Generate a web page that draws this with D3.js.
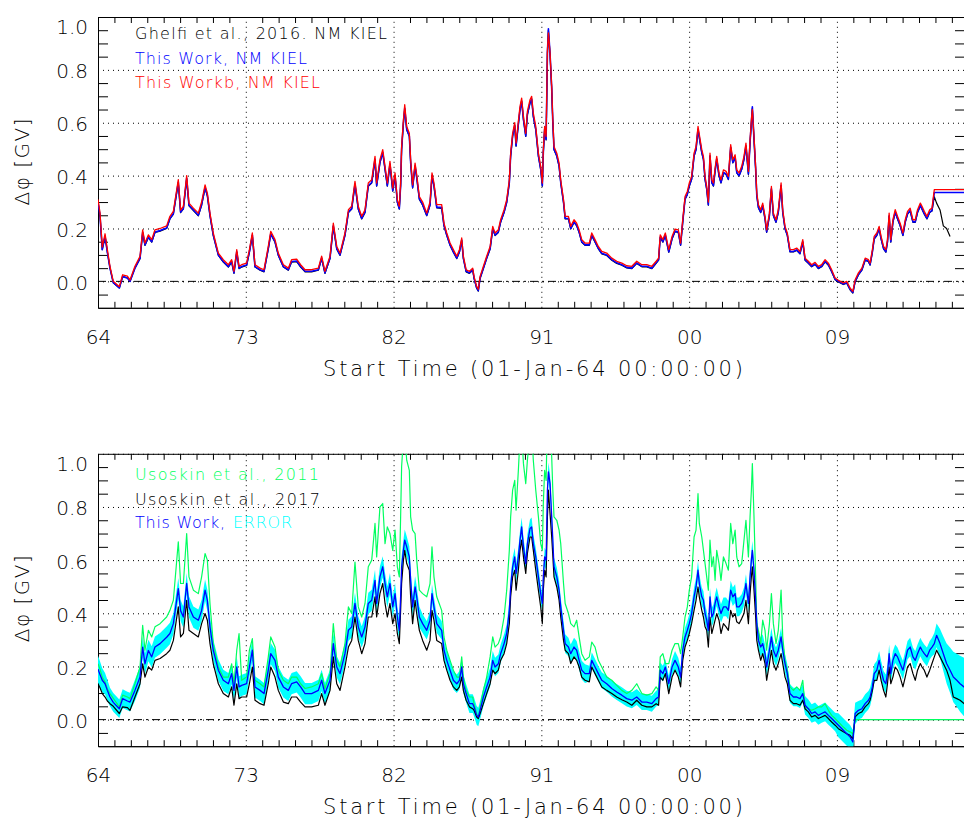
<!DOCTYPE html>
<html>
<head>
<meta charset="utf-8">
<script src="https://cdn.jsdelivr.net/npm/d3@7"></script>
<style>
  body { margin: 0; background: #fff; }
  svg text { font-family: "DejaVu Sans", sans-serif; font-weight: 300; fill: #000; }
</style>
</head>
<body>
<svg id="chart" width="964" height="819"></svg>
<script>
// time of each sample (decimal year), shared by every series
var years = [
  // 1964 - 1981
  1964.00,1964.12,1964.26,1964.43,1964.57,1964.73,1964.93,1965.30,1965.50,1965.79,
  1965.95,1966.25,1966.56,1966.72,1966.86,1967.07,1967.27,1967.47,1967.78,1968.18,
  1968.38,1968.59,1968.89,1969.03,1969.20,1969.40,1969.54,1969.81,1970.11,1970.31,
  1970.52,1970.66,1970.82,1971.02,1971.33,1971.63,1971.94,1972.14,1972.28,1972.45,
  1972.59,1972.75,1973.05,1973.22,1973.40,1973.56,1973.87,1974.11,1974.37,1974.52,
  1974.78,1974.98,1975.29,1975.59,1975.79,1976.10,1976.34,1976.61,1977.01,1977.42,
  1977.62,1977.82,1978.13,1978.33,1978.54,1978.74,1979.04,1979.25,1979.45,1979.65,
  1979.85,1980.06,1980.26,1980.46,1980.67,1980.87,1980.97,
  // 1981 - 1999
  1981.17,1981.34,1981.48,1981.62,1981.78,1981.95,1982.09,1982.23,1982.35,1982.43,
  1982.49,1982.60,1982.68,1982.80,1982.96,1983.04,1983.16,1983.31,1983.41,1983.57,
  1983.77,1984.02,1984.22,1984.34,1984.46,1984.63,1984.93,1985.07,1985.24,1985.44,
  1985.64,1985.85,1986.01,1986.15,1986.25,1986.42,1986.62,1986.82,1986.90,1987.06,
  1987.16,1987.27,1987.47,1987.67,1987.88,1988.04,1988.18,1988.38,1988.52,1988.73,
  1988.89,1989.05,1989.13,1989.25,1989.38,1989.46,1989.60,1989.70,1989.80,1989.91,
  1990.05,1990.15,1990.31,1990.41,1990.51,1990.66,1990.82,1990.96,1991.06,1991.12,
  1991.20,1991.29,1991.37,1991.43,1991.53,1991.63,1991.69,1991.77,1991.94,1992.08,
  1992.18,1992.35,1992.45,1992.65,1992.79,1992.99,1993.15,1993.30,1993.46,1993.66,
  1993.92,1994.07,1994.27,1994.47,1994.68,1994.98,1995.29,1995.59,1995.90,1996.20,
  1996.51,1996.81,1997.12,1997.42,1997.73,1997.99,1998.14,1998.24,1998.40,1998.55,
  1998.76,1998.96,
  // 1999 - 2016
  1999.14,1999.34,1999.48,1999.61,1999.75,1999.89,2000.01,2000.15,2000.30,2000.42,
  2000.54,2000.62,2000.77,2000.87,2000.97,2001.07,2001.17,2001.27,2001.38,2001.48,
  2001.58,2001.68,2001.82,2001.94,2002.09,2002.25,2002.39,2002.53,2002.66,2002.80,
  2002.90,2003.04,2003.20,2003.34,2003.46,2003.61,2003.71,2003.79,2003.85,2003.95,
  2004.05,2004.12,2004.22,2004.36,2004.48,2004.62,2004.72,2004.89,2005.01,2005.13,
  2005.29,2005.43,2005.60,2005.70,2005.84,2005.98,2006.14,2006.35,2006.55,2006.75,
  2006.92,2007.06,2007.26,2007.46,2007.67,2007.87,2008.07,2008.28,2008.48,2008.68,
  2008.89,2009.09,2009.39,2009.60,2009.80,2009.97,2010.11,2010.31,2010.52,2010.72,
  2010.92,2011.02,2011.16,2011.27,2011.43,2011.57,2011.69,2011.84,2011.98,2012.08,
  2012.18,2012.28,2012.41,2012.55,2012.69,2012.85,2013.02,2013.16,2013.30,2013.46,
  2013.63,2013.77,2013.91,2014.08,2014.18,2014.32,2014.48,2014.65,2014.79,2014.93,
  2015.07,2015.28,2015.48,2015.68,2015.89,2016.09,2016.30,2016.50,2016.74,2016.80
];

// top panel: This Workb, NM KIEL (red)
var kielB = [
  .31,.26,.13,.18,.12,.057,0,-.02,.025,.02,
  .005,.057,.095,.195,.145,.176,.158,.195,.20,.21,
  .246,.265,.385,.27,.284,.40,.296,.277,.258,.30,
  .365,.334,.258,.183,.107,.082,.063,.082,.038,.12,
  .057,.063,.069,.12,.183,.063,.05,.044,.132,.189,
  .158,.107,.063,.05,.082,.084,.063,.044,.044,.05,
  .095,.038,.095,.22,.132,.107,.183,.271,.284,.378,
  .284,.246,.271,.372,.384,.473,.372,
  .46,.498,.435,.372,.454,.353,.41,.309,.284,.372,
  .51,.611,.668,.586,.56,.46,.365,.447,.403,.321,
  .30,.258,.30,.41,.372,.29,.29,.22,.183,.145,
  .12,.095,.12,.164,.095,.044,.038,.05,.019,-.019,
  -.03,.019,.057,.095,.132,.208,.183,.195,.233,.271,
  .309,.384,.485,.56,.60,.523,.605,.662,.693,.624,
  .56,.643,.687,.70,.636,.586,.485,.435,.372,.498,
  .586,.548,.876,.94,.863,.737,.624,.51,.485,.447,
  .384,.309,.246,.246,.208,.233,.22,.195,.158,.145,
  .145,.183,.158,.132,.113,.107,.088,.076,.069,.059,
  .057,.076,.063,.063,.057,.076,.088,.176,.158,.183,
  .12,.17,
  .198,.195,.145,.233,.321,.34,.372,.397,.485,.51,
  .586,.555,.498,.473,.397,.359,.30,.485,.384,.372,
  .428,.473,.41,.384,.422,.416,.397,.517,.46,.479,
  .422,.41,.435,.473,.523,.416,.536,.611,.65,.548,
  .435,.334,.29,.271,.296,.246,.195,.258,.359,.258,
  .233,.271,.372,.271,.208,.183,.12,.12,.126,.113,
  .158,.088,.076,.063,.072,.057,.063,.082,.069,.044,
  .013,.004,-.006,0,-.025,-.038,.006,.032,.05,.088,
  .082,.069,.12,.17,.183,.208,.17,.132,.12,.158,
  .258,.158,.233,.271,.246,.22,.183,.233,.265,.277,
  .233,.233,.271,.296,.284,.265,.246,.271,.277,.347,
  .347,.347,.347,.347,.347,.347,.347,.347,.347,.347
];

// top panel: This Work, NM KIEL (blue)
var kielA = [
  .30,.25,.12,.17,.11,.05,-.005,-.025,.018,.013,
  0,.05,.088,.185,.138,.168,.15,.187,.192,.202,
  .238,.256,.375,.262,.276,.39,.288,.27,.25,.29,
  .355,.325,.25,.175,.10,.075,.056,.075,.032,.112,
  .05,.056,.062,.112,.175,.056,.044,.038,.124,.18,
  .15,.10,.056,.044,.075,.077,.056,.038,.038,.044,
  .088,.032,.088,.21,.124,.10,.175,.262,.275,.368,
  .275,.238,.262,.362,.374,.462,.362,
  .45,.488,.425,.362,.444,.343,.40,.30,.275,.362,
  .50,.60,.655,.575,.55,.45,.355,.437,.393,.312,
  .29,.25,.29,.40,.362,.28,.28,.212,.175,.138,
  .112,.088,.112,.156,.088,.038,.032,.044,.013,-.024,
  -.035,.013,.05,.088,.124,.20,.175,.187,.225,.262,
  .30,.374,.475,.55,.59,.513,.595,.65,.682,.613,
  .55,.632,.676,.69,.625,.575,.475,.425,.362,.488,
  .575,.537,.865,.955,.86,.73,.615,.50,.475,.437,
  .374,.30,.238,.238,.20,.225,.212,.187,.15,.138,
  .138,.175,.15,.125,.106,.10,.082,.07,.063,.053,
  .05,.07,.057,.057,.05,.07,.082,.168,.15,.175,
  .112,.162,
  .19,.187,.138,.225,.312,.33,.362,.387,.475,.50,
  .575,.545,.488,.463,.387,.35,.29,.475,.374,.362,
  .418,.463,.40,.374,.412,.406,.387,.507,.45,.469,
  .412,.40,.425,.463,.513,.406,.526,.60,.66,.538,
  .425,.325,.28,.262,.287,.238,.187,.25,.35,.25,
  .225,.262,.362,.262,.20,.175,.113,.113,.119,.106,
  .15,.082,.07,.057,.066,.05,.057,.076,.063,.038,
  .008,0,-.01,-.005,-.03,-.042,0,.026,.044,.082,
  .076,.063,.112,.162,.175,.20,.162,.125,.112,.15,
  .248,.15,.225,.262,.238,.212,.175,.225,.256,.268,
  .225,.225,.262,.287,.275,.256,.238,.262,.268,.336,
  .336,.336,.336,.336,.336,.336,.336,.336,.336,.336
];

// top panel: Ghelfi et al., 2016. NM KIEL (black)
var ghelfi = [
  .30,.25,.12,.17,.11,.05,-.005,-.025,.018,.013,
  0,.05,.086,.183,.136,.166,.148,.185,.19,.20,
  .236,.254,.373,.26,.274,.388,.286,.268,.248,.288,
  .353,.323,.248,.173,.098,.073,.054,.073,.03,.11,
  .048,.054,.06,.11,.173,.054,.042,.036,.122,.178,
  .148,.098,.054,.042,.073,.075,.054,.036,.036,.042,
  .086,.03,.086,.208,.122,.098,.173,.26,.273,.366,
  .273,.236,.26,.36,.372,.46,.36,
  .448,.486,.423,.36,.442,.341,.398,.298,.273,.36,
  .498,.598,.652,.573,.548,.448,.353,.435,.391,.31,
  .288,.248,.288,.398,.36,.278,.276,.21,.173,.136,
  .11,.086,.11,.154,.086,.036,.03,.042,.011,-.026,
  -.037,.011,.048,.086,.122,.198,.173,.185,.223,.26,
  .298,.372,.473,.548,.588,.511,.593,.648,.68,.611,
  .548,.63,.674,.688,.623,.573,.473,.423,.36,.486,
  .573,.535,.862,.95,.855,.728,.613,.498,.473,.435,
  .372,.298,.236,.236,.198,.223,.21,.185,.148,.136,
  .136,.173,.148,.123,.104,.098,.08,.068,.061,.051,
  .048,.068,.055,.055,.048,.068,.08,.166,.148,.173,
  .11,.16,
  .188,.185,.136,.223,.31,.328,.36,.385,.473,.498,
  .573,.543,.486,.461,.385,.348,.288,.473,.372,.36,
  .416,.461,.398,.372,.41,.404,.385,.505,.448,.467,
  .41,.398,.423,.461,.511,.404,.524,.598,.655,.536,
  .423,.323,.278,.26,.285,.236,.185,.248,.348,.248,
  .223,.26,.36,.26,.198,.173,.111,.111,.117,.104,
  .148,.08,.068,.055,.064,.048,.055,.074,.061,.036,
  .006,-.002,-.012,-.007,-.032,-.044,-.002,.024,.042,.08,
  .074,.061,.11,.16,.173,.198,.16,.123,.11,.148,
  .246,.148,.223,.26,.236,.21,.173,.223,.254,.266,
  .223,.223,.26,.285,.273,.254,.236,.26,.266,.32,
  .296,.27,.21,.20,.17,null,null,null,null,null
];

// bottom panel: This Work (blue) and its error half-width (cyan band)
var thisWork = [
  .19,.17,.148,.135,.11,.085,.065,.041,.079,.07,
  .066,.11,.16,.273,.21,.26,.236,.273,.286,.31,
  .324,.361,.493,.41,.386,.512,.424,.386,.374,.41,
  .487,.449,.349,.261,.186,.148,.135,.173,.11,.198,
  .123,.129,.135,.198,.261,.123,.11,.098,.186,.248,
  .223,.16,.123,.11,.135,.142,.123,.098,.098,.11,
  .148,.098,.148,.286,.198,.173,.248,.336,.349,.437,
  .349,.311,.349,.437,.449,.524,.437,
  .537,.575,.512,.462,.512,.424,.474,.386,.336,.462,
  .575,.637,.675,.65,.612,.524,.424,.499,.462,.386,
  .361,.336,.374,.474,.424,.361,.336,.261,.223,.186,
  .148,.135,.148,.198,.135,.098,.06,.06,.048,.016,
  .01,.035,.085,.123,.16,.223,.198,.21,.248,.286,
  .324,.411,.499,.575,.612,.55,.612,.675,.725,.65,
  .587,.662,.719,.725,.662,.612,.537,.474,.437,.537,
  .612,.60,.863,.932,.888,.763,.687,.575,.537,.487,
  .424,.336,.286,.273,.248,.273,.261,.223,.186,.173,
  .173,.223,.198,.173,.148,.135,.117,.104,.092,.079,
  .073,.085,.066,.066,.06,.079,.085,.186,.173,.198,
  .135,.198,
  .223,.198,.16,.261,.311,.336,.361,.399,.462,.499,
  .562,.512,.462,.449,.399,.374,.336,.462,.386,.399,
  .437,.462,.424,.399,.424,.424,.411,.487,.462,.474,
  .424,.424,.437,.462,.512,.437,.537,.60,.637,.562,
  .449,.361,.298,.273,.286,.248,.198,.261,.311,.261,
  .236,.261,.311,.261,.211,.173,.098,.085,.085,.079,
  .098,.054,.041,.023,.029,.016,.023,.029,.016,.004,
  -.009,-.021,-.04,-.053,-.065,-.084,.023,.035,.041,.06,
  .073,.085,.123,.173,.186,.223,.186,.148,.135,.173,
  .248,.173,.223,.248,.236,.211,.186,.223,.261,.273,
  .236,.223,.248,.273,.261,.248,.236,.261,.273,.286,
  .317,.286,.248,.211,.186,.16,.148,.135,.123,.12
];

var thisWorkErr = [
  .05,.05,.045,.04,.04,.035,.035,.035,.035,.035,
  .035,.04,.04,.04,.04,.04,.04,.04,.04,.04,
  .04,.04,.04,.04,.04,.04,.04,.04,.04,.04,
  .04,.04,.04,.04,.04,.04,.04,.04,.04,.04,
  .04,.04,.04,.04,.04,.04,.04,.04,.04,.04,
  .04,.04,.04,.04,.04,.04,.04,.04,.04,.04,
  .04,.04,.04,.04,.04,.04,.04,.04,.04,.04,
  .04,.04,.04,.04,.04,.04,.04,
  .04,.04,.04,.04,.04,.04,.04,.04,.04,.04,
  .04,.04,.04,.04,.04,.04,.04,.04,.04,.04,
  .035,.035,.035,.035,.035,.035,.035,.035,.035,.035,
  .035,.035,.035,.035,.035,.035,.035,.035,.035,.035,
  .035,.035,.035,.035,.035,.035,.035,.035,.035,.035,
  .035,.035,.035,.035,.035,.035,.035,.035,.035,.035,
  .035,.035,.035,.035,.035,.035,.035,.035,.035,.035,
  .035,.035,.035,.035,.035,.035,.035,.035,.035,.035,
  .035,.035,.035,.035,.035,.035,.035,.035,.035,.035,
  .03,.03,.03,.03,.03,.03,.03,.03,.03,.03,
  .03,.03,.03,.03,.03,.03,.03,.03,.03,.03,
  .03,.03,
  .035,.035,.035,.035,.035,.035,.035,.035,.035,.035,
  .035,.035,.035,.035,.035,.035,.035,.035,.035,.035,
  .035,.035,.035,.035,.035,.035,.035,.035,.035,.035,
  .035,.035,.035,.035,.035,.035,.035,.035,.035,.035,
  .035,.035,.035,.035,.035,.035,.035,.035,.035,.035,
  .035,.035,.035,.035,.035,.035,.035,.035,.035,.035,
  .035,.035,.035,.035,.035,.035,.035,.035,.035,.035,
  .035,.045,.045,.045,.045,.045,.04,.035,.035,.035,
  .035,.035,.035,.035,.035,.035,.035,.035,.035,.035,
  .035,.035,.035,.035,.035,.035,.035,.035,.035,.035,
  .035,.035,.035,.035,.035,.035,.035,.035,.035,.04,
  .045,.055,.065,.075,.085,.095,.10,.105,.11,.11
];

// bottom panel: Usoskin et al., 2017 (black)
var usoskin17 = [
  .135,.12,.098,.085,.07,.06,.05,.023,.048,.045,
  .035,.085,.135,.21,.16,.198,.186,.223,.23,.248,
  .261,.298,.424,.311,.324,.449,.336,.324,.311,.361,
  .399,.374,.286,.21,.135,.098,.085,.123,.054,.135,
  .079,.085,.085,.135,.198,.073,.06,.054,.135,.198,
  .16,.11,.066,.06,.085,.085,.066,.048,.048,.054,
  .098,.054,.11,.236,.135,.11,.198,.273,.298,.386,
  .298,.248,.286,.386,.386,.462,.386,
  .474,.512,.437,.386,.437,.361,.399,.324,.286,.411,
  .512,.60,.637,.587,.562,.462,.361,.449,.399,.336,
  .298,.261,.298,.411,.374,.298,.286,.223,.186,.148,
  .123,.11,.123,.16,.11,.073,.048,.041,.035,.01,
  .004,.023,.06,.098,.135,.186,.173,.186,.223,.248,
  .286,.361,.462,.537,.562,.487,.562,.637,.675,.612,
  .55,.625,.687,.687,.637,.562,.487,.424,.361,.487,
  .562,.537,.763,.863,.775,.687,.625,.537,.499,.449,
  .386,.298,.261,.248,.211,.236,.223,.198,.16,.148,
  .142,.198,.173,.148,.123,.11,.098,.085,.075,.066,
  .054,.073,.054,.048,.048,.06,.054,.16,.148,.173,
  .098,.16,
  .186,.16,.123,.223,.273,.298,.324,.361,.411,.449,
  .499,.462,.411,.386,.349,.336,.273,.386,.324,.349,
  .374,.399,.374,.324,.361,.349,.336,.411,.386,.399,
  .368,.361,.38,.399,.449,.361,.474,.537,.575,.487,
  .386,.298,.261,.223,.248,.211,.148,.211,.261,.211,
  .186,.211,.248,.211,.16,.135,.073,.06,.06,.054,
  .073,.041,.029,.01,.016,.004,.01,.016,.004,-.009,
  -.021,-.034,-.046,-.053,-.059,-.072,.01,.023,.029,.048,
  .06,.073,.11,.148,.148,.186,.148,.11,.085,.135,
  .198,.135,.16,.198,.186,.16,.123,.16,.198,.211,
  .173,.148,.186,.211,.198,.186,.16,.186,.211,.236,
  .261,.236,.211,.186,.148,.085,.079,.073,.06,.058
];

// bottom panel: Usoskin et al., 2011 (green)
var usoskin11 = [
  .21,.19,.16,.142,.115,.098,.08,.048,.092,.085,
  .079,.135,.198,.355,.261,.336,.311,.349,.361,.386,
  .411,.449,.669,.512,.512,.70,.537,.487,.474,.537,
  .625,.60,.437,.286,.198,.16,.16,.21,.135,.261,
  .324,.148,.16,.261,.305,.148,.135,.123,.236,.311,
  .273,.186,.148,.135,.16,.16,.135,.117,.123,.135,
  .173,.117,.173,.361,.223,.198,.286,.424,.399,.593,
  .424,.386,.437,.575,.60,.738,.612,
  .80,.813,.662,.725,.70,.637,.713,.575,.537,.763,
  .951,1.06,1.08,.976,.938,.763,.713,.70,.60,.487,
  .474,.462,.512,.65,.537,.462,.411,.311,.261,.223,
  .186,.16,.16,.236,.16,.11,.085,.085,.06,.023,
  .004,.048,.11,.16,.236,.311,.273,.286,.311,.386,
  .487,.637,.763,.863,.90,.788,.938,1.06,1.08,.963,
  .888,.976,1.08,1.1,.976,.863,.763,.662,.637,.813,
  .938,.90,1.15,1.2,1.12,.989,.876,.763,.75,.713,
  .662,.512,.437,.399,.361,.349,.374,.311,.248,.223,
  .236,.292,.273,.223,.198,.16,.148,.129,.11,.098,
  .11,.135,.098,.092,.098,.123,.11,.236,.248,.211,
  .211,.261,
  .286,.286,.248,.311,.386,.424,.487,.537,.687,.713,
  .85,.738,.687,.637,.587,.537,.487,.675,.575,.612,
  .524,.637,.587,.524,.612,.587,.562,.738,.662,.713,
  .612,.575,.587,.675,.75,.612,.763,.863,.963,.763,
  .537,.361,.336,.286,.374,.336,.261,.361,.474,.361,
  .286,.336,.487,.311,.223,.186,.123,.11,.123,.11,
  .148,.048,.041,.035,.041,.048,.048,.06,.035,.016,
  .004,-.009,-.028,-.04,-.046,-.053,0,0,0,0,
  0,0,0,0,0,0,0,0,0,0,
  0,0,0,0,0,0,0,0,0,0,
  0,0,0,0,0,0,0,0,0,0,
  0,0,0,0,0,0,0,0,0,0
];

var majorYears = [1964, 1973, 1982, 1991, 2000, 2009];
var minorYears = d3.range(1965, 2017).filter(function(d) { return majorYears.indexOf(d) < 0; });
var majorV = [0, 0.2, 0.4, 0.6, 0.8, 1.0];
var minorV = [-0.05, 0.05, 0.1, 0.15, 0.25, 0.3, 0.35, 0.45, 0.5, 0.55, 0.65, 0.7, 0.75, 0.85, 0.9, 0.95];

var svg = d3.select("#chart");
var x = d3.scaleLinear().domain([1964, 2016.8]).range([98, 965]);
var left = 98, right = 965, width = right - left;

function pts(vals) {
  return years.map(function(t, i) { return [t, vals[i]]; });
}

function panel(id, y0, y1) {
  var y = d3.scaleLinear().domain([-0.1, 1.0]).range([y1, y0]);
  var h = y1 - y0;
  var g = svg.append("g");

  svg.append("clipPath").attr("id", id)
    .append("rect").attr("x", left).attr("y", y0).attr("width", width).attr("height", h);

  // dotted major grid with labels
  var gx = g.append("g").attr("transform", "translate(0," + y1 + ")")
    .call(d3.axisBottom(x).tickValues(majorYears).tickSize(-h).tickSizeOuter(0).tickPadding(22)
      .tickFormat(function(d) { return String(d % 100).padStart(2, "0"); }));
  gx.selectAll(".tick line").attr("stroke-dasharray", "1,4");
  gx.selectAll("text").style("font-size", "20px");

  var gy = g.append("g").attr("transform", "translate(" + left + ",0)")
    .call(d3.axisLeft(y).tickValues(majorV).tickSize(-width).tickSizeOuter(0).tickPadding(10)
      .tickFormat(d3.format(".1f")));
  gy.selectAll(".tick line").attr("stroke-dasharray", "1,4");
  gy.selectAll("text").style("font-size", "20px")
    .attr("y", function(d) { return d == 1 ? 10 : 1.5; });

  // minor ticks on all four sides
  g.append("g").attr("transform", "translate(0," + y1 + ")")
    .call(d3.axisBottom(x).tickValues(minorYears).tickSize(-6).tickSizeOuter(0).tickFormat(""));
  g.append("g").attr("transform", "translate(0," + y0 + ")")
    .call(d3.axisTop(x).tickValues(minorYears).tickSize(-6).tickSizeOuter(0).tickFormat(""));
  g.append("g").attr("transform", "translate(" + left + ",0)")
    .call(d3.axisLeft(y).tickValues(minorV).tickSize(-10).tickSizeOuter(0).tickFormat(""));
  g.append("g").attr("transform", "translate(" + right + ",0)")
    .call(d3.axisRight(y).tickValues(minorV).tickSize(-10).tickSizeOuter(0).tickFormat(""));

  // zero reference
  g.append("line")
    .attr("x1", left).attr("x2", right).attr("y1", y(0)).attr("y2", y(0))
    .attr("stroke", "#000").attr("stroke-dasharray", "8,4,2,4");

  g.append("text").attr("x", 323).attr("y", y1 + 68)
    .attr("textLength", 420).style("font-size", "21px")
    .text("Start Time (01-Jan-64 00:00:00)");

  g.append("text")
    .attr("transform", "translate(29," + (y0 + 145) + ") rotate(-90)")
    .attr("text-anchor", "middle").attr("textLength", 87).style("font-size", "20px")
    .text("\u0394\u03c6 [GV]");

  var plot = g.append("g").attr("clip-path", "url(#" + id + ")");
  return { y: y, plot: plot };
}

function addLine(p, vals, color, w) {
  var line = d3.line()
    .defined(function(d) { return d[1] != null; })
    .x(function(d) { return x(d[0]); })
    .y(function(d) { return p.y(d[1]); });
  p.plot.append("path").datum(pts(vals))
    .attr("fill", "none").attr("stroke", color).attr("stroke-width", w)
    .attr("stroke-linejoin", "round").attr("d", line);
}

function label(txt, px, py, color, len) {
  svg.append("text").attr("x", px).attr("y", py).attr("textLength", len)
    .style("font-size", "16px").style("fill", color).text(txt);
}

// ---- top panel
var topPanel = panel("clipTop", 17, 307.8);
addLine(topPanel, ghelfi, "#000", 1.2);
addLine(topPanel, kielA, "#0000ff", 1.6);
addLine(topPanel, kielB, "#ff0000", 1.3);

label("Ghelfi et al., 2016. NM KIEL", 135, 39, "#000", 252);
label("This Work, NM KIEL", 135, 63.5, "#0000ff", 172);
label("This Workb, NM KIEL", 135, 88, "#ff0000", 185);

// ---- bottom panel
var botPanel = panel("clipBot", 453.8, 746.2);
var band = d3.area()
  .x(function(d, i) { return x(years[i]); })
  .y0(function(d, i) { return botPanel.y(thisWork[i] - thisWorkErr[i]); })
  .y1(function(d, i) { return botPanel.y(thisWork[i] + thisWorkErr[i]); });
botPanel.plot.append("path").datum(years).attr("fill", "#00ffff").attr("d", band);
addLine(botPanel, usoskin11, "#00ff60", 1.2);
addLine(botPanel, usoskin17, "#000", 1.2);
addLine(botPanel, thisWork, "#0000ff", 1.3);

label("Usoskin et al., 2011", 135, 480, "#00ff60", 184);
label("Usoskin et al., 2017", 135, 504.5, "#000", 185);
label("This Work,", 135, 528, "#0000ff", 90);
label("ERROR", 233, 528, "#00ffff", 59);
</script>
</body>
</html>
